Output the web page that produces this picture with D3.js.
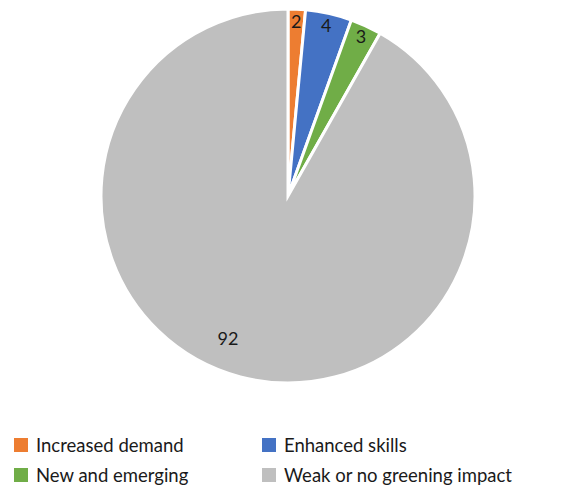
<!DOCTYPE html>
<html><head><meta charset="utf-8">
<script src="https://cdn.jsdelivr.net/npm/d3@7"></script>
<style>body{margin:0;background:#fff}svg{display:block}text{font-family:"Source Sans Pro","Lato","Noto Sans",sans-serif;fill:#1a1a1a}</style>
</head><body><svg id="c" width="574" height="489"></svg>
<script>
const categories = ["Increased demand","Enhanced skills","New and emerging","Weak or no greening impact"];
const values = [1.5, 4.0, 2.7, 91.8];
const colors = ["#ED7D31","#4472C4","#70AD47","#BFBFBF"];

const svg = d3.select("#c");
const cx = 288, cy = 196, R = 187;
const data = categories.map((c,i)=>({cat:c,value:values[i],color:colors[i]}));
const pie = d3.pie().value(d=>d.value).sort(null);
const arcs = pie(data);
const arc = d3.arc().innerRadius(0).outerRadius(R);
const g = svg.append("g").attr("transform",`translate(${cx},${cy})`);
g.selectAll("path").data(arcs).join("path")
  .attr("d",arc).attr("fill",d=>d.data.color)
  .attr("stroke","#fff").attr("stroke-width",3).attr("stroke-linejoin","miter");

const smallArc = d3.arc().innerRadius(R*0.935).outerRadius(R*0.935);
const bigArc = d3.arc().innerRadius(R*0.83).outerRadius(R*0.83).startAngle(d=>d.startAngle+0.14).endAngle(d=>d.endAngle+0.14);
g.selectAll("text.lbl").data(arcs).join("text").attr("class","lbl")
  .attr("transform",d=>`translate(${(d.data.value>50?bigArc:smallArc).centroid(d)})`)
  .attr("text-anchor","middle").attr("dy","0.35em")
  .style("font-size","18px")
  .text(d=>Math.round(d.data.value));

const leg = svg.append("g");
const lx = d3.scaleOrdinal().domain([0,1]).range([14,262]);
const ly = d3.scaleOrdinal().domain([0,1]).range([438,468]);
data.forEach((d,i)=>{
  const col=i%2,row=Math.floor(i/2);
  const gg=leg.append("g").attr("transform",`translate(${lx(col)},${ly(row)})`);
  gg.append("rect").attr("width",14).attr("height",14).attr("fill",d.color);
  gg.append("text").attr("x",22).attr("y",7).attr("dy","0.36em").style("font-size","18.5px").text(d.cat);
});
</script></body></html>
